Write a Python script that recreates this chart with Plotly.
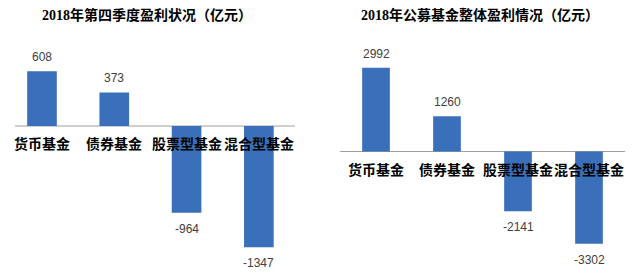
import plotly.graph_objects as go

categories = ["货币基金", "债券基金", "股票型基金", "混合型基金"]
q4_profit = [608, 373, -964, -1347]
year_profit = [2992, 1260, -2141, -3302]
title_q4 = "2018年第四季度盈利状况（亿元）"
title_year = "2018年公募基金整体盈利情况（亿元）"

W, H = 637, 274
BAR = "#3a6fb9"
CJK = "Noto Sans CJK SC"

fig = go.Figure()
fig.add_trace(go.Bar(x=categories, y=q4_profit, xaxis="x", yaxis="y", width=0.41,
                     marker=dict(color=BAR, line_width=0), hoverinfo="skip"))
fig.add_trace(go.Bar(x=categories, y=year_profit, xaxis="x2", yaxis="y2", width=0.39,
                     marker=dict(color=BAR, line_width=0), hoverinfo="skip"))

ann = []
panels = [
    ("x", "y", q4_profit, title_q4, 147, (15, 295)),
    ("x2", "y2", year_profit, title_year, 480, (340, 625)),
]
for xr, yr, vals, title, tcx, (lx0, lx1) in panels:
    ann.append(dict(text=title, xref="paper", yref="paper", x=tcx / W, y=1 - 15 / H,
                    showarrow=False, xanchor="center", yanchor="middle",
                    font=dict(family="Liberation Serif, " + CJK, size=14, color="#000000", weight=700)))
    for c, v in zip(categories, vals):
        ann.append(dict(text=str(v), xref=xr, yref=yr, x=c, y=v, showarrow=False,
                        xanchor="center", yanchor="middle",
                        yshift=14 if v > 0 else -16,
                        font=dict(family="Liberation Sans", size=12, color="#404040")))
        ann.append(dict(text=c, xref=xr, yref=yr, x=c, y=0, showarrow=False,
                        xanchor="center", yanchor="middle", yshift=-17,
                        font=dict(family=CJK, size=14, color="#000000", weight=700)))
    fig.add_shape(type="line", xref="paper", yref=yr, x0=lx0 / W, x1=lx1 / W, y0=0, y1=0,
                  line=dict(color="#a0a0a0", width=1), layer="below")

ax = dict(showticklabels=False, showgrid=False, zeroline=False, showline=False, ticks="",
          fixedrange=True)
fig.update_layout(
    width=W, height=H, margin=dict(l=0, r=0, t=0, b=0),
    paper_bgcolor="white", plot_bgcolor="rgba(0,0,0,0)", showlegend=False,
    xaxis=dict(domain=[5.85 / W, 295 / W], range=[-0.5, 3.5], **ax),
    yaxis=dict(domain=[0, 1], range=[-1644, 1400], **ax),
    xaxis2=dict(domain=[340.5 / W, 624.5 / W], range=[-0.5, 3.5], anchor="y2", **ax),
    yaxis2=dict(domain=[0, 1], range=[-4381, 5418], anchor="x2", **ax),
    annotations=ann,
)
fig.write_html("out.html")
